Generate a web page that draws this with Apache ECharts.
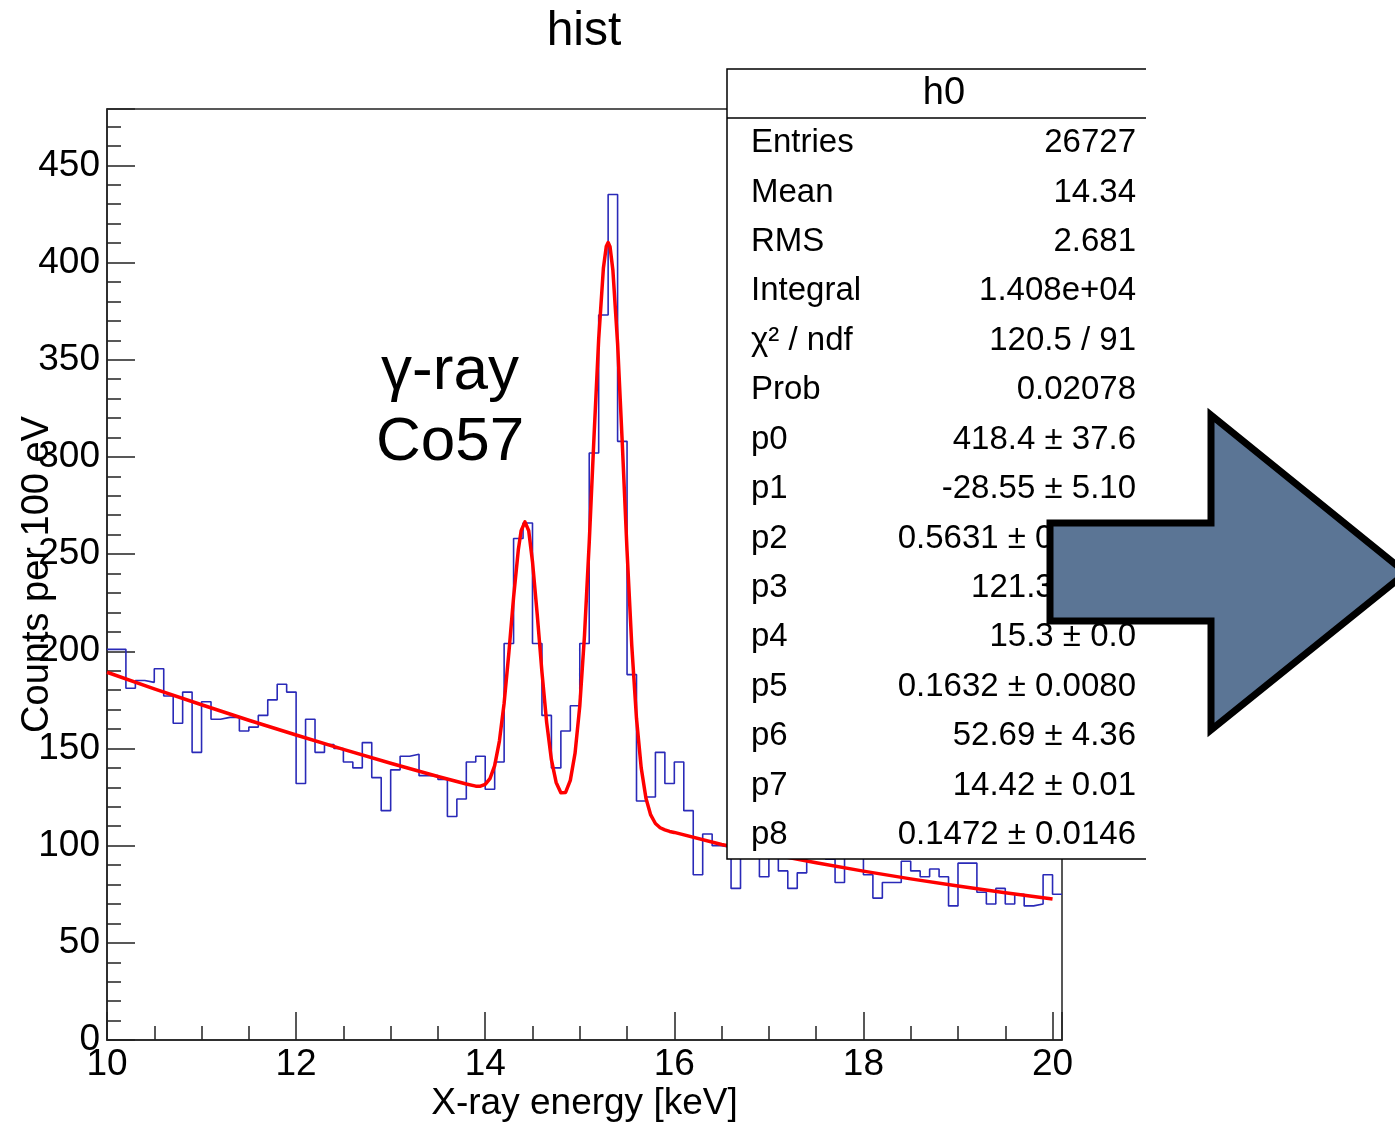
<!DOCTYPE html>
<html>
<head>
<meta charset="utf-8">
<title>hist</title>
<script src="https://cdn.jsdelivr.net/npm/echarts@6/dist/echarts.min.js"></script>
<style>
  html, body { margin: 0; padding: 0; background: #fff; }
  #main { width: 1395px; height: 1123px; }
</style>
</head>
<body>
<div id="main"></div>
<script type="text/javascript">
// histogram: 101 bins of 0.1 keV starting at 10 keV
var xMin = 10, binWidth = 0.1;
var binCounts = [
  201, 201, 181, 185, 184, 191, 177, 163, 179, 148,
  174, 165, 166, 166, 159, 161, 167, 175, 183, 179,
  132, 165, 148, 152, 150, 143, 140, 153, 135, 118,
  139, 146, 147, 136, 136, 134, 115, 124, 143, 146,
  129, 143, 204, 258, 266, 204, 167, 140, 159, 172,
  204, 302, 373, 435, 308, 188, 123, 125, 148, 132,
  143, 118, 85, 106, 100, 99, 78, 96, 102, 84,
  97, 87, 78, 86, 95, 99, 93, 81, 96, 94,
  85, 73, 81, 81, 92, 87, 84, 88, 84, 69,
  91, 91, 76, 70, 78, 70, 75, 69, 70, 85,
  75
];

// fit curve
var fitX = [10, 10.5, 11, 11.5, 12, 12.5, 13, 13.5, 13.8,
  13.9, 13.95, 14.0, 14.05, 14.1, 14.15, 14.2, 14.25, 14.3, 14.35, 14.38, 14.42, 14.46, 14.5,
  14.55, 14.6, 14.65, 14.7, 14.75, 14.8, 14.85, 14.9, 14.95, 15.0, 15.05, 15.1, 15.15, 15.2,
  15.25, 15.28, 15.3, 15.32, 15.35, 15.4, 15.45, 15.5, 15.55, 15.6, 15.65, 15.7, 15.75, 15.8,
  15.85, 15.9, 15.95, 16.0, 16.5, 17, 17.5, 18, 18.5, 19, 19.5, 20];
var fitY = [189.2, 180.7, 172.5, 164.5, 156.9, 149.5, 142.4, 135.6, 131.7,
  130.6, 130.6, 131.5, 134.5, 141.2, 153.8, 173.3, 199.2, 227.7, 252.2, 262.0, 266.6, 262.0, 246.1,
  219.0, 189.3, 163.3, 144.2, 132.5, 127.2, 127.4, 133.6, 147.5, 171.8, 208.2, 255.9, 309.8, 360.6,
  397.2, 408.2, 410.3, 408.1, 396.2, 358.4, 306.6, 251.6, 202.9, 165.4, 139.9, 124.4, 115.8, 111.4,
  109.2, 108.1, 107.3, 106.8, 100.6, 95.8, 91.2, 86.9, 82.9, 79.2, 75.8, 72.6];

// stats box
var statNames = ['Entries', 'Mean', 'RMS', 'Integral', 'χ² / ndf', 'Prob',
  'p0', 'p1', 'p2', 'p3', 'p4', 'p5', 'p6', 'p7', 'p8'];
var statValues = ['26727', '14.34', '2.681', '1.408e+04', '120.5 / 91', '0.02078',
  '418.4 ± 37.6', '-28.55 ± 5.10', '0.5631 ± 0.1752', '121.3 ± 6.0', '15.3 ± 0.0',
  '0.1632 ± 0.0080', '52.69 ± 4.36', '14.42 ± 0.01', '0.1472 ± 0.0146'];

var FONT = 'Liberation Sans, Arial, Helvetica, sans-serif';

var histData = binCounts.map(function (v, i) { return [xMin + i * binWidth, v]; });
histData.push([xMin + binCounts.length * binWidth, binCounts[binCounts.length - 1]]);
var fitData = fitX.map(function (x, i) { return [x, fitY[i]]; });

var xMax = +(xMin + binCounts.length * binWidth).toFixed(2);
var yMax = 479;

var dom = document.getElementById('main');
var myChart = echarts.init(dom);

var graphics = [];
// title
graphics.push({
  type: 'text', x: 584, y: 32, z: 100,
  style: { text: 'hist', font: '48px ' + FONT, fill: '#000', align: 'center', verticalAlign: 'middle' }
});
// annotation
graphics.push({
  type: 'text', x: 450, y: 372, z: 100,
  style: { text: 'γ-ray', font: '62px ' + FONT, fill: '#000', align: 'center', verticalAlign: 'middle' }
});
graphics.push({
  type: 'text', x: 450, y: 443, z: 100,
  style: { text: 'Co57', font: '62px ' + FONT, fill: '#000', align: 'center', verticalAlign: 'middle' }
});
// stats box
graphics.push({
  type: 'rect', z: 100,
  shape: { x: 727, y: 69, width: 420, height: 790 },
  style: { fill: '#fff', stroke: null }
});
graphics.push({
  type: 'polyline', z: 101,
  shape: { points: [[1146, 69], [727, 69], [727, 859], [1146, 859]] },
  style: { stroke: '#000', lineWidth: 1.5, fill: null }
});
graphics.push({
  type: 'line', z: 101,
  shape: { x1: 727, y1: 118, x2: 1146, y2: 118 },
  style: { stroke: '#000', lineWidth: 1.5 }
});
graphics.push({
  type: 'text', x: 944, y: 94, z: 102,
  style: { text: 'h0', font: '38px ' + FONT, fill: '#000', align: 'center', verticalAlign: 'middle' }
});
statNames.forEach(function (name, i) {
  var y = 143 + i * 49.44;
  graphics.push({
    type: 'text', x: 751, y: y, z: 102,
    style: { text: name, font: '33px ' + FONT, fill: '#000', align: 'left', verticalAlign: 'middle' }
  });
  graphics.push({
    type: 'text', x: 1136, y: y, z: 102,
    style: { text: statValues[i], font: '33px ' + FONT, fill: '#000', align: 'right', verticalAlign: 'middle' }
  });
});
// arrow
graphics.push({
  type: 'polygon', z: 110,
  shape: { points: [[1050, 523], [1211, 523], [1211, 415], [1406, 573], [1211, 730], [1211, 621], [1050, 621]] },
  style: { fill: '#5b7595', stroke: '#000', lineWidth: 7, lineJoin: 'miter' }
});

var option = {
  animation: false,
  backgroundColor: '#fff',
  grid: {
    left: 107, top: 109, width: 955, height: 931,
    containLabel: false, outerBoundsMode: 'none',
    show: true, borderColor: '#222', borderWidth: 1.5, backgroundColor: 'transparent'
  },
  xAxis: [{
    type: 'value', min: xMin, max: xMax, interval: 2,
    position: 'bottom',
    name: 'X-ray energy [keV]', nameLocation: 'middle', nameGap: 45, nameMoveOverlap: false,
    nameTextStyle: { fontFamily: FONT, fontSize: 37, color: '#000' },
    axisLine: { show: true, lineStyle: { color: '#222', width: 1.5 } },
    axisTick: { show: true, inside: true, length: 28, lineStyle: { color: '#222', width: 1.5 } },
    axisLabel: {
      fontFamily: FONT, fontSize: 37, color: '#000', margin: 6,
      formatter: function (v) { return (Math.abs(v - Math.round(v)) < 1e-6 && Math.round(v) % 2 === 0) ? String(Math.round(v)) : ''; }
    },
    splitLine: { show: false }
  }, {
    type: 'value', min: xMin, max: xMax, interval: 0.5,
    position: 'bottom',
    axisLine: { show: false },
    axisTick: { show: true, inside: true, length: 14, lineStyle: { color: '#222', width: 1.5 } },
    axisLabel: { show: false },
    splitLine: { show: false }
  }],
  yAxis: [{
    type: 'value', min: 0, max: yMax, interval: 50,
    position: 'left',
    name: 'Counts per 100 eV', nameLocation: 'middle', nameGap: 50, nameRotate: 90, nameMoveOverlap: false,
    nameTextStyle: { fontFamily: FONT, fontSize: 38, color: '#000' },
    axisLine: { show: true, lineStyle: { color: '#222', width: 1.5 } },
    axisTick: { show: true, inside: true, length: 28, lineStyle: { color: '#222', width: 1.5 } },
    axisLabel: {
      fontFamily: FONT, fontSize: 37, color: '#000', margin: 7,
      formatter: function (v) { return (v % 50 === 0) ? String(v) : ''; }
    },
    splitLine: { show: false }
  }, {
    type: 'value', min: 0, max: yMax, interval: 10,
    position: 'left',
    axisLine: { show: false },
    axisTick: { show: true, inside: true, length: 14, lineStyle: { color: '#222', width: 1.5 } },
    axisLabel: { show: false },
    splitLine: { show: false }
  }],
  series: [{
    name: 'h0',
    type: 'line',
    step: 'end',
    data: histData,
    showSymbol: false,
    lineStyle: { color: '#2a2ab8', width: 1.6 },
    z: 3
  }, {
    name: 'fit',
    type: 'line',
    data: fitData,
    smooth: false,
    showSymbol: false,
    lineStyle: { color: '#ff0000', width: 3.5, join: 'round' },
    z: 4
  }],
  graphic: graphics
};

if (option && typeof option === 'object') {
  myChart.setOption(option, true);
}
</script>
</body>
</html>
